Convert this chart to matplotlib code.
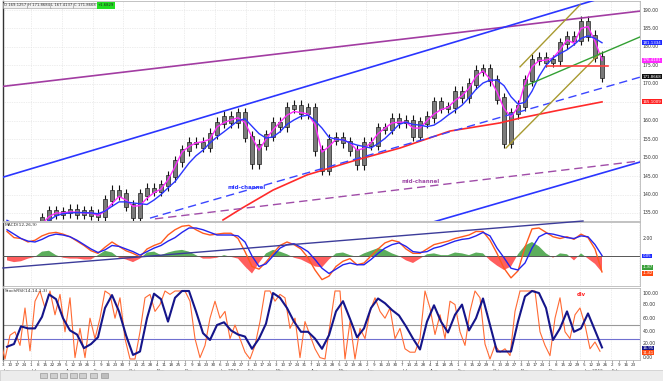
import numpy as np
import pandas as pd
import matplotlib
matplotlib.use('Agg')
import matplotlib.pyplot as plt
import matplotlib.dates as mdates
from matplotlib.patches import Rectangle
from matplotlib.transforms import blended_transform_factory

# ---------------- data ----------------
week_start = '2013-06-07'   # weekly samples (Fridays)
close = [131, 129.5, 128, 128.5, 131, 133.5, 135.5, 134.8, 135.2, 135.8,
         134.8, 135.5, 134.6, 134.2, 138.5, 141, 140, 137, 134, 140,
         141.5, 141, 142.5, 145, 149, 152, 154, 154, 153, 156.5,
         159.4, 161, 159.6, 162, 155.6, 148.5, 153.5, 156, 159.4, 158.5,
         163.5, 164, 162, 163.4, 152, 146.8, 154.8, 155.4, 154.2, 152,
         148.2, 154, 153.5, 158, 157.8, 160.5, 159.6, 160, 156, 159.5,
         161, 165, 163.5, 163.7, 167.8, 166.4, 170, 173.5, 174, 171,
         166, 154, 162, 164, 171, 176.5, 177, 176, 176.4, 181,
         182.7, 182, 186.8, 183, 177.3, 171.87]
ma_fast = [132, 131, 130, 129.5, 130, 132, 134, 135, 135, 135.3,
           135.2, 135, 135, 134.3, 135.5, 137.5, 139.5, 138.5, 136.8, 137,
           139, 140.5, 141.5, 144, 147.5, 151.5, 153, 154, 154.3, 155,
           158.3, 159.5, 160.2, 160.8, 159.5, 155.5, 152, 155, 157.5, 159.6,
           161.5, 162.5, 162.2, 161.8, 159, 151.5, 153, 155, 154.8, 154,
           152, 152.5, 154, 156.5, 158, 159.4, 159.6, 159.6, 158, 158,
           160, 161.8, 163, 163.6, 165.5, 166.8, 168.8, 172, 173.5, 171.3,
           167.8, 163.3, 161, 163.7, 170.2, 174.6, 176.3, 176.4, 177, 179.2,
           181.9, 181, 185, 185.5, 181.5, 176.41]
ma_slow = [133, 132, 131, 130.5, 130.5, 131.5, 133, 134.2, 134.8, 135,
           135.1, 135.1, 135, 134.8, 135.5, 136.8, 138, 138, 137.7, 137.5,
           137.3, 138.5, 140, 141.8, 143.5, 146, 148.5, 150.5, 152, 154,
           155.6, 157, 158.5, 160, 160.5, 158.5, 156.5, 155.3, 155.6, 157,
           159, 160.2, 161.2, 161.5, 160, 158, 155.5, 155, 154.8, 154,
           153.4, 153, 152.6, 153.8, 155.2, 157, 159, 159.6, 159, 158.8,
           158.4, 158.8, 160, 161.5, 162.8, 164.2, 166.2, 168.5, 170.2, 171,
           171, 169.5, 166.5, 164.5, 165, 168, 172, 175, 177, 178.2,
           179.2, 180.6, 182.3, 183, 182.3, 181.13]
red_ma_dates = ['2014-01-09', '2014-01-28', '2014-02-28', '2014-04-03', '2014-05-23',
                '2014-07-05', '2014-08-24', '2014-10-13', '2014-11-02', '2014-12-12',
                '2015-01-23']
red_ma = [133.1, 136.3, 141.2, 145.3, 149.4, 152.6, 157.2, 159.4, 160.7, 162.9, 165.1]

macd = [2.8, 2.1, 2.0, 1.6, 1.8, 2.3, 2.6, 2.7, 2.5, 2.2,
        1.7, 1.2, 0.6, 0.3, 1.0, 1.6, 1.1, 0.6, 0.3, -0.1,
        0.8, 1.2, 1.5, 2.4, 3.0, 3.4, 3.5, 3.0, 2.6, 2.4,
        2.5, 2.6, 2.6, 2.0, 0.5, -1.2, -1.5, -0.7, 0.3, 1.2,
        1.6, 1.3, 0.8, -0.2, -1.6, -2.7, -2.3, -1.2, -0.6, -0.3,
        -1.0, -0.8, 0.0, 0.8, 1.5, 1.8, 1.6, 0.8, 0.3, 0.3,
        0.8, 1.3, 1.5, 1.7, 2.0, 2.2, 2.4, 2.8, 2.8, 1.8,
        0.3, -1.4, -2.5, -1.7, 1.0, 3.1, 3.2, 2.7, 2.2, 2.0,
        2.2, 1.9, 2.5, 2.1, 0.8, -1.82]
signal = [3.0, 2.5, 2.0, 1.7, 1.6, 1.9, 2.3, 2.5, 2.4, 2.2,
          1.8, 1.3, 0.8, 0.4, 0.7, 1.2, 1.1, 0.8, 0.5, 0.1,
          0.5, 0.9, 1.2, 1.7, 2.1, 2.7, 3.2, 3.2, 3.0, 2.7,
          2.4, 2.4, 2.4, 2.3, 1.6, 0.0, -1.2, -0.9, 0.0, 0.9,
          1.3, 1.4, 1.0, 0.5, -0.4, -1.4, -2.0, -1.5, -1.0, -0.8,
          -1.0, -1.0, -0.4, 0.3, 0.9, 1.3, 1.5, 1.1, 0.5, 0.4,
          0.5, 0.9, 1.1, 1.4, 1.7, 1.9, 2.0, 2.3, 2.7, 2.3,
          0.9, -0.2, -1.4, -1.6, -0.8, 0.9, 2.2, 2.6, 2.5, 2.3,
          2.1, 2.0, 2.3, 2.2, 1.3, 0.05]
hist = [-0.5, -0.7, -0.6, -0.3, -0.1, 0.5, 0.6, 0.1, -0.2, -0.3,
        -0.3, -0.4, -0.4, 0.1, 0.6, 0.4, -0.2, -0.4, -0.7, -0.3,
        0.4, 0.5, 0.1, 0.4, 0.6, 0.7, 0.5, 0.1, -0.3, -0.3,
        -0.2, 0.1, -0.1, -0.3, -1.2, -2.0, -0.8, 0.3, 0.7, 0.5,
        0.2, -0.2, -0.4, -0.8, -1.2, -1.3, -0.4, 0.3, 0.4, 0.1,
        -0.1, 0.3, 0.6, 0.9, 0.7, 0.3, 0.0, -0.5, -0.8, -0.3,
        0.2, 0.3, 0.1, 0.1, 0.4, 0.3, 0.1, 0.4, 0.3, -0.5,
        -1.1, -1.6, -1.2, 0.2, 1.2, 1.6, 1.1, 0.3, -0.2, 0.3,
        0.2, -0.5, 0.3, -0.3, -0.9, -1.87]
stoch_slow = [18, 22, 48, 45, 45, 62, 95, 88, 60, 42,
              36, 16, 22, 32, 75, 94, 70, 35, 6, 11,
              60, 96, 88, 55, 90, 100, 100, 70, 38, 28,
              50, 54, 42, 36, 33, 15, 30, 52, 97, 90,
              75, 55, 40, 40, 30, 15, 35, 70, 85, 59,
              32, 45, 75, 89, 82, 72, 64, 48, 30, 14,
              55, 79, 55, 39, 65, 80, 42, 60, 89, 50,
              11, 11, 11, 55, 92, 100, 97, 75, 28, 45,
              70, 40, 45, 67, 42, 17]
fast_start = '2013-05-31'   # 5-day samples
stoch_fast = [30, 0, 35, 40, 20, 75, 12, 85, 100, 75,
              100, 65, 95, 40, 90, 2, 45, 2, 60, 30,
              60, 100, 95, 60, 90, 30, 0, 0, 40, 90,
              95, 70, 80, 100, 95, 100, 100, 100, 85, 30,
              2, 20, 60, 85, 60, 70, 30, 50, 30, 10,
              0, 20, 55, 100, 100, 85, 95, 90, 45, 60,
              2, 55, 35, 15, 2, 0, 50, 100, 100, 0,
              55, 0, 45, 30, 70, 90, 70, 60, 75, 30,
              45, 15, 10, 10, 30, 100, 75, 36, 65, 30,
              85, 80, 40, 20, 70, 100, 90, 22, 0, 20,
              10, 15, 5, 70, 100, 100, 100, 100, 40, 20,
              5, 60, 90, 40, 30, 65, 75, 50, 15, 25, 11.4]

header_values = ['169.1257', '171.8684', '167.4137', '171.8668']
header_change = '+1.6829'

# ---------------- figure ----------------
W, H = 663, 381
fig = plt.figure(figsize=(W / 100, H / 100), dpi=100)
fig.patch.set_facecolor('white')


def rect(x0, y0, x1, y1):
    return [x0 / W, 1 - y1 / H, (x1 - x0) / W, (y1 - y0) / H]


ax1 = fig.add_axes(rect(3, 1, 640, 221))
ax2 = fig.add_axes(rect(3, 222, 640, 286))
ax3 = fig.add_axes(rect(3, 288, 640, 360))

D = lambda s: mdates.date2num(pd.Timestamp(s))
wk = mdates.date2num(pd.date_range(week_start, periods=len(close), freq='7D'))
fk = mdates.date2num(pd.date_range(fast_start, periods=len(stoch_fast), freq='5D'))
xmin, xmax = D('2013-06-03'), D('2015-03-02')
months = mdates.date2num(pd.date_range('2013-07-01', '2015-03-01', freq='MS'))

GRID = '#dcdcdc'
for ax in (ax1, ax2, ax3):
    ax.set_xlim(xmin, xmax)
    ax.set_xticks([])
    ax.set_yticks([])
    for sp in ('top', 'right', 'bottom'):
        ax.spines[sp].set_color('#b8b8b8')
        ax.spines[sp].set_linewidth(0.6)
    ax.spines['left'].set_color('#333333')
    ax.spines['left'].set_linewidth(1.0)
    for m in months:
        ax.axvline(m, color=GRID, lw=0.5, ls=(0, (1, 1.5)), zorder=0)

LBL = dict(va='center', ha='left', clip_on=False)


def box(col):
    return dict(boxstyle='square,pad=0.12', fc=col, ec='none')


# ---- main panel ----
ax1.set_ylim(132.82, 192.44)
for p in range(135, 195, 5):
    ax1.axhline(p, color=GRID, lw=0.5, ls=(0, (1, 1.5)), zorder=0)

c = np.array(close)
o = np.concatenate([[c[0]], c[:-1]])
hi = np.maximum(o, c) + 1.5
lo = np.minimum(o, c) - 1.5
ax1.vlines(wk, lo, hi, color='#111111', lw=0.8, zorder=3)
ax1.bar(wk, np.abs(c - o) + 0.6, bottom=np.minimum(o, c) - 0.3, width=3.6,
        color='#7a7a7a', edgecolor='#111111', lw=0.45, zorder=3)

ax1.plot(wk, ma_fast, color='#ff2bff', lw=1.0, zorder=4)
ax1.plot(wk, ma_slow, color='#2a35ff', lw=1.0, zorder=4)
ax1.plot([D(d) for d in red_ma_dates], red_ma, color='#ff2a2a', lw=1.2, zorder=4)

lines = [
    (['2013-06-03', '2015-03-02'], [169.3, 189.7], '#a23ca2', '-', 1.2),
    (['2013-06-03', '2015-01-21'], [144.7, 193.1], '#2a35ff', '-', 1.2),
    (['2014-08-04', '2015-03-02'], [132.3, 148.8], '#2a35ff', '-', 1.2),
    (['2013-10-28', '2015-03-02'], [133.6, 171.8], '#3a45ff', (0, (6, 3.5)), 1.0),
    (['2013-11-02', '2015-03-02'], [133.4, 149.1], '#a04ca8', (0, (6, 3.5)), 1.0),
    (['2014-11-02', '2015-01-01'], [174.6, 191.4], '#a89a30', '-', 1.0),
    (['2014-10-19', '2015-01-21'], [152.6, 178.3], '#a89a30', '-', 1.0),
    (['2014-11-07', '2015-03-02'], [169.4, 182.7], '#33a033', '-', 1.0),
    (['2014-11-29', '2015-01-29'], [174.8, 174.8], '#ff4040', '-', 1.2),
]
for ds, vs, col, ls, lw in lines:
    ax1.plot([D(d) for d in ds], vs, color=col, ls=ls, lw=lw, zorder=5)

ax1.text(D('2014-01-14'), 142.0, 'mid-channel', color='#2a35ff', fontsize=4,
         fontweight='bold', va='center', ha='left')
ax1.text(D('2014-07-07'), 143.4, 'mid-channel', color='#a04ca8', fontsize=4,
         fontweight='bold', va='center', ha='left')

tr1 = blended_transform_factory(ax1.transAxes, ax1.transData)
for p in range(135, 195, 5):
    if p == 165:
        continue   # hidden behind the red value box in the reference
    ax1.text(1.004, p, f'{p:.2f}', transform=tr1, color='#333333', fontsize=3.3, **LBL)
for val, lab, col in [(181.1334, '181.1334', '#1f2bff'), (176.4101, '176.4101', '#ff2bff'),
                      (171.8668, '171.8668', '#111111'), (165.1009, '165.1009', '#ff2020')]:
    ax1.text(1.004, val, lab, transform=tr1, color='white', fontsize=2.9, bbox=box(col),
             **LBL)

# ---- MACD panel ----
ax2.set_ylim(-3.43, 3.886)
h = np.array(hist)
ax2.fill_between(wk, 0, h, where=h >= 0, interpolate=True, color='#5cae5c', lw=0, zorder=2)
ax2.fill_between(wk, 0, h, where=h <= 0, interpolate=True, color='#ff5e5e', lw=0, zorder=2)
ax2.axhline(0, color='#555555', lw=0.7, zorder=3)
ax2.plot(wk, macd, color='#ff5a1e', lw=1.0, zorder=4)
ax2.plot(wk, signal, color='#2424ee', lw=1.0, zorder=4)
ax2.plot([D('2013-06-03'), D('2015-01-04')], [-1.37, 4.0], color='#3c3c9a', lw=1.0,
         zorder=5, clip_on=False)
ax2.text(0.003, 0.985, 'MACD(12,26,9)', transform=ax2.transAxes, fontsize=3.2,
         color='#333333', va='top', ha='left')
tr2 = blended_transform_factory(ax2.transAxes, ax2.transData)
ax2.text(1.004, 2.0, '2.00', transform=tr2, color='#333333', fontsize=3.3, **LBL)
for val, lab, col in [(0.0, '0.05', '#1f2bff'), (-1.3, '-1.87', '#3aa03a'),
                      (-1.95, '-1.82', '#ff4a10')]:
    ax2.text(1.004, val, lab, transform=tr2, color='white', fontsize=2.9, bbox=box(col),
             **LBL)

# ---- Stochastic panel ----
ax3.set_ylim(-1.47, 104.4)
ax3.axhline(50, color='#999999', lw=0.8, zorder=1)
ax3.axhline(30, color='#7070d0', lw=0.8, zorder=1)
ax3.plot(fk, stoch_fast, color='#ff6a33', lw=0.8, zorder=3)
ax3.plot(wk, stoch_slow, color='#15158a', lw=1.5, zorder=4)
ax3.text(0.003, 0.985, 'StochRSI(14,14,1,3)', transform=ax3.transAxes, fontsize=3.2,
         color='#333333', va='top', ha='left')
ax3.text(D('2014-12-29'), 95.5, 'div', color='#ff2020', fontsize=3.8, fontweight='bold',
         va='center', ha='left')
tr3 = blended_transform_factory(ax3.transAxes, ax3.transData)
for v, yy in [(100, 96), (80, 80), (60, 60), (40, 40), (20, 22.5), (0, 1.5)]:
    ax3.text(1.004, yy, f'{v:.2f}', transform=tr3, color='#333333', fontsize=3.3, **LBL)
for val, lab, col in [(15.5, '16.95', '#15158a'), (9.5, '11.41', '#ff4a10')]:
    ax3.text(1.004, val, lab, transform=tr3, color='white', fontsize=2.9, bbox=box(col),
             **LBL)

# date labels
mondays = pd.date_range('2013-06-03', '2015-02-23', freq='W-MON')
trx = blended_transform_factory(ax3.transData, ax3.transAxes)
prev_month = None
for m in mondays:
    xm = mdates.date2num(m)
    ax3.plot([xm, xm], [0, -0.025], transform=trx, color='#666666', lw=0.4, clip_on=False)
    ax3.text(xm, -0.045, str(m.day), transform=trx, fontsize=3.0, color='#333333',
             ha='center', va='top', clip_on=False)
    if m.month != prev_month:
        lab = m.strftime('%b') if m.month != 1 else m.strftime('%b %Y')
        ax3.text(xm, -0.13, lab, transform=trx, fontsize=3.2, color='#333333',
                 ha='left', va='top', clip_on=False)
        prev_month = m.month

# ---- header boxes ----
xs = [3, 27, 50, 73]
icons = ['O', 'H', 'L', 'C']
for x0, ic, v in zip(xs, icons, header_values):
    fig.text((x0 + 1) / W, 1 - 5.5 / H, f'{ic} {v}', fontsize=2.7, color='#333333',
             va='center', ha='left',
             bbox=dict(boxstyle='square,pad=0.2', fc='#f2f2f2', ec='#9a9a9a', lw=0.4))
fig.text(98 / W, 1 - 5.5 / H, header_change, fontsize=2.7, color='#222222', va='center',
         ha='left', bbox=dict(boxstyle='square,pad=0.3', fc='#22dd22', ec='none'))

# ---- toolbar ----
fig.add_artist(Rectangle((0, 0), 1, 11 / H, transform=fig.transFigure,
                         fc='#ececec', ec='#c8c8c8', lw=0.5))
for i, xi in enumerate([40, 50, 60, 70, 79, 90, 101]):
    fig.add_artist(Rectangle((xi / W, 3.5 / H), 7 / W, 5 / H, transform=fig.transFigure,
                             fc='#cfcfcf' if i < 6 else '#bdbdbd', ec='#8a8a8a', lw=0.4))

fig.savefig('out.png', dpi=100)
